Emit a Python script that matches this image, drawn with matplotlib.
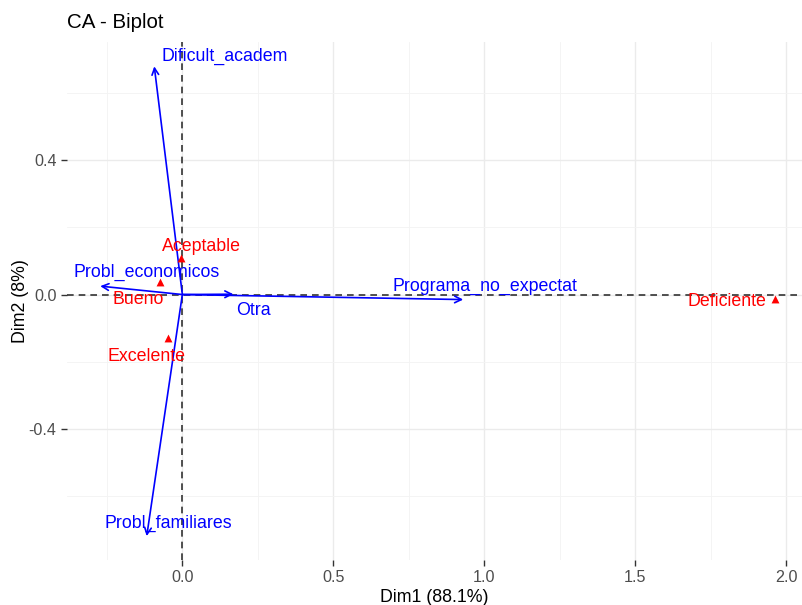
import matplotlib
matplotlib.use("Agg")
import matplotlib.pyplot as plt
from matplotlib.ticker import MultipleLocator

plt.rcParams['font.family'] = ['Liberation Sans', 'DejaVu Sans']

# Row points (red triangles)
row_names = ["Aceptable", "Bueno", "Excelente", "Deficiente"]
row_dim1 = [-0.004, -0.073, -0.046, 1.963]
row_dim2 = [0.108, 0.038, -0.130, -0.012]

# Column points (blue arrows)
col_names = ["Dificult_academ", "Probl_economicos", "Otra",
             "Programa_no_expectat", "Probl_familiares"]
col_dim1 = [-0.093, -0.272, 0.169, 0.930, -0.118]
col_dim2 = [0.679, 0.025, 0.001, -0.015, -0.719]

xlabel = "Dim1 (88.1%)"
ylabel = "Dim2 (8%)"
title = "CA - Biplot"

# label offsets (layout, as placed by the repelling labeller)
row_off = [(0.068, 0.036), (-0.073, -0.054), (-0.074, -0.053), (-0.160, -0.009)]
col_off = [(0.233, 0.029), (0.153, 0.041), (0.065, -0.048), (0.072, 0.040), (0.073, 0.038)]

fig = plt.figure(figsize=(8.02, 6.05), dpi=100)
ax = fig.add_axes([67/802, 1-560/605, 1-67/802, (560-42)/605])

ax.set_xlim(-0.382, 2.052)
ax.set_ylim(-0.790, 0.7515)
ax.xaxis.set_major_locator(MultipleLocator(0.5))
ax.xaxis.set_minor_locator(MultipleLocator(0.25))
ax.yaxis.set_major_locator(MultipleLocator(0.4))
ax.yaxis.set_minor_locator(MultipleLocator(0.2))
ax.grid(which='major', color='#EBEBEB', linewidth=1.0)
ax.grid(which='minor', color='#F3F3F3', linewidth=0.6)
ax.set_axisbelow(True)
for s in ax.spines.values():
    s.set_visible(False)
ax.tick_params(which='major', length=4.5, width=1, color='#333333',
               labelcolor='#4D4D4D', labelsize=11.6, pad=3)
ax.tick_params(which='minor', length=0)
ax.set_xticks([0.0, 0.5, 1.0, 1.5, 2.0])
ax.set_xticklabels(["0.0", "0.5", "1.0", "1.5", "2.0"])
ax.set_yticks([-0.4, 0.0, 0.4])
ax.set_yticklabels(["-0.4", "0.0", "0.4"])

ax.axhline(0, color='#333333', linestyle=(0, (4, 3)), linewidth=1.2, zorder=1)
ax.axvline(0, color='#333333', linestyle=(0, (4, 3)), linewidth=1.2, zorder=1)

for name, x, y, (dx, dy) in zip(col_names, col_dim1, col_dim2, col_off):
    ax.annotate("", xy=(x, y), xytext=(0, 0),
                arrowprops=dict(arrowstyle='->', color='blue', lw=1.2,
                                mutation_scale=12, shrinkA=0, shrinkB=0),
                zorder=3)
    ax.text(x + dx, y + dy, name, color='blue', fontsize=12.8,
            ha='center', va='center', zorder=4)

ax.scatter(row_dim1, row_dim2, marker='^', color='red', s=32, zorder=4,
           linewidths=0)
for name, x, y, (dx, dy) in zip(row_names, row_dim1, row_dim2, row_off):
    ax.text(x + dx, y + dy, name, color='red', fontsize=12.8,
            ha='center', va='center', zorder=4)

ax.set_xlabel(xlabel, fontsize=12.8, color='black')
ax.xaxis.set_label_coords(0.5, -(598-560)/518, transform=ax.transAxes)
ax.xaxis.label.set_va('center')
ax.set_ylabel(ylabel, fontsize=12.8, color='black')
ax.yaxis.set_label_coords(-(67-21)/735, 0.5, transform=ax.transAxes)
ax.yaxis.label.set_va('center')
fig.text(67/802, 1-28/605, title, fontsize=14.8, ha='left', va='baseline')

fig.savefig("out.png", dpi=100)
